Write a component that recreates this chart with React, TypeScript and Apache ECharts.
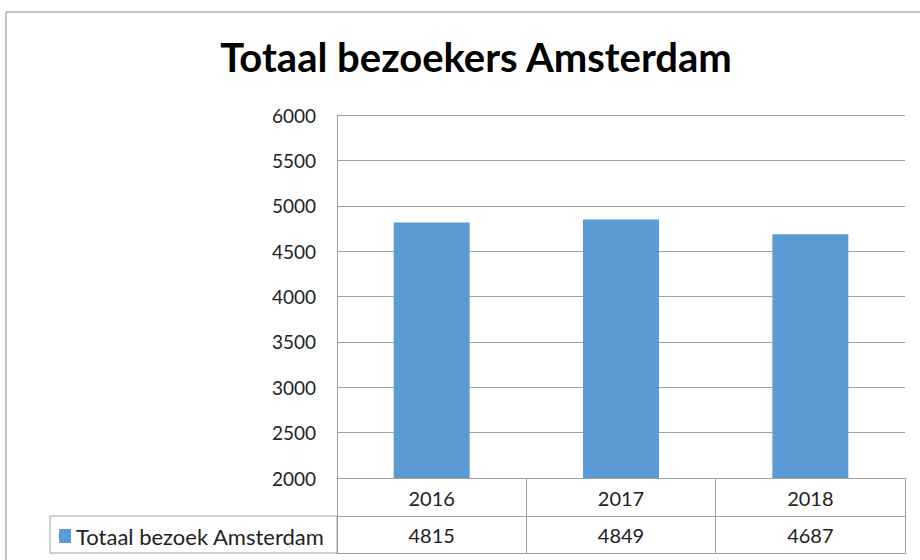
import React, { useEffect, useRef } from "react";
import * as echarts from "echarts";

const categories = ["2016", "2017", "2018"];
const seriesName = "Totaal bezoek Amsterdam";
const values = [4815, 4849, 4687];
const titleText = "Totaal bezoekers Amsterdam";

const FONT = "Lato, 'Open Sans', sans-serif";

export default function App() {
  const ref = useRef<HTMLDivElement>(null);
  useEffect(() => {
    if (!ref.current) return;
    const chart = echarts.init(ref.current, undefined, { renderer: "svg" });
    const lineColor = "#a0a0a0";
    chart.setOption({
      animation: false,
      backgroundColor: "#ffffff",
      title: {
        text: titleText,
        left: 471,
        top: 32,
        textAlign: "center",
        textStyle: { fontFamily: FONT, fontWeight: "bold", fontSize: 40, color: "#000" },
      },
      legend: {
        data: [seriesName],
        left: 54,
        top: 520,
        itemWidth: 12,
        itemHeight: 14,
        icon: "rect",
        textStyle: { fontFamily: FONT, fontSize: 22, color: "#222" },
      },
      grid: { left: 337, top: 115, right: 15, bottom: 82 },
      xAxis: [
        {
          type: "category",
          data: categories,
          position: "bottom",
          axisLine: { show: true, lineStyle: { color: lineColor } },
          axisTick: { show: true, length: 76, alignWithLabel: false, lineStyle: { color: lineColor } },
          axisLabel: { margin: 10, fontFamily: FONT, fontSize: 20, color: "#222" },
        },
        {
          type: "category",
          data: categories,
          position: "bottom",
          offset: 38,
          axisLine: { show: true, lineStyle: { color: lineColor } },
          axisTick: { show: false },
          axisLabel: {
            margin: 9,
            fontFamily: FONT,
            fontSize: 20,
            color: "#222",
            formatter: (_v: string, i: number) => String(values[i]),
          },
        },
        {
          type: "category",
          data: categories,
          position: "bottom",
          offset: 75,
          axisLine: { show: true, lineStyle: { color: lineColor } },
          axisTick: { show: false },
          axisLabel: { show: false },
        },
      ],
      yAxis: {
        type: "value",
        min: 2000,
        max: 6000,
        interval: 500,
        axisLine: { show: true, lineStyle: { color: lineColor } },
        axisTick: { show: false },
        splitLine: { show: true, lineStyle: { color: lineColor } },
        axisLabel: {
          margin: 21,
          fontFamily: FONT,
          fontSize: 19,
          color: "#222",
          formatter: (v: number) => String(v),
        },
      },
      series: [
        {
          name: seriesName,
          type: "bar",
          data: values,
          xAxisIndex: 0,
          barWidth: 76,
          itemStyle: { color: "#5b9bd5" },
        },
      ],
      graphic: [
        {
          type: "rect",
          shape: { x: 50, y: 516, width: 287, height: 37 },
          style: { fill: "none", stroke: lineColor, lineWidth: 1 },
          silent: true,
        },
        {
          type: "rect",
          shape: { x: 6, y: 12, width: 1000, height: 700 },
          style: { fill: "none", stroke: "#8a8a8a", lineWidth: 1 },
          silent: true,
        },
      ],
    });
    return () => chart.dispose();
  }, []);
  return (
    <div
      ref={ref}
      style={{ position: "fixed", left: 0, top: 0, width: 920, height: 560 }}
    />
  );
}
